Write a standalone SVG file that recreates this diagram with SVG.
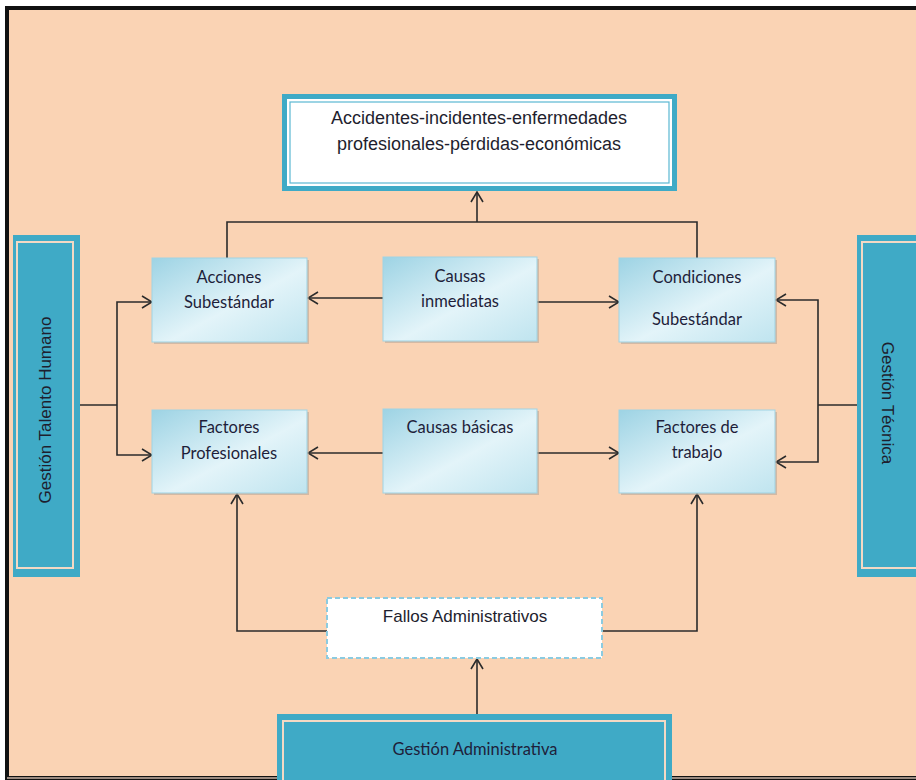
<svg xmlns="http://www.w3.org/2000/svg" width="916" height="780" viewBox="0 0 916 780">
<style>
.conn{fill:none;stroke:#2b2b2b;stroke-width:1.6}
.arr{marker-end:url(#ah)}
.blue{fill:url(#bg);stroke:#9fd3e3;stroke-width:1}
.shadow{fill:#b9a99a;opacity:0.6}
.teal{fill:#3FAAC6}
.inner{fill:none;stroke:#f3d9c4;stroke-width:2}
.t1{font-family:"Liberation Sans",Arial,sans-serif;font-size:17px;fill:#1e1e2e;text-anchor:middle}
.t0{font-family:"Liberation Sans",Arial,sans-serif;font-size:18px;fill:#1e1e2e;text-anchor:middle}
.t2{font-family:Lato,"Open Sans",sans-serif;font-size:16.5px;fill:#1e1e3a;text-anchor:middle}
</style>
<defs>
<linearGradient id="bg" x1="0" y1="0" x2="1" y2="1">
<stop offset="0" stop-color="#9dd3e4"/>
<stop offset="0.55" stop-color="#e3f4f9"/>
<stop offset="1" stop-color="#bfe4ef"/>
</linearGradient>
<marker id="ah" viewBox="0 0 12 14" refX="11" refY="7" markerWidth="12" markerHeight="14" markerUnits="userSpaceOnUse" orient="auto">
<path d="M1,1 L11,7 L1,13" fill="none" stroke="#2b2b2b" stroke-width="1.6"/>
</marker>
</defs>
<rect x="0" y="0" width="916" height="780" fill="#ffffff"/>
<rect x="7" y="8" width="915" height="770" fill="#FAD3B4" stroke="#111" stroke-width="4"/>
<line x1="7" y1="778" x2="916" y2="778" stroke="#9a8a80" stroke-width="2"/>

<g id="connectors">
<polyline class="conn" points="227,258 227,222 697,222 697,258"/>
<line class="conn arr" x1="477" y1="222" x2="477" y2="192"/>
<line class="conn arr" x1="383" y1="298" x2="308" y2="298"/>
<line class="conn arr" x1="537" y1="302" x2="619" y2="302"/>
<line class="conn arr" x1="383" y1="453" x2="308" y2="453"/>
<line class="conn arr" x1="537" y1="453" x2="619" y2="453"/>
<line class="conn" x1="80" y1="405" x2="117" y2="405"/>
<polyline class="conn arr" points="117,405 117,302 152,302"/>
<polyline class="conn arr" points="117,405 117,455 152,455"/>
<line class="conn" x1="857" y1="405" x2="818" y2="405"/>
<polyline class="conn arr" points="818,405 818,300 776,300"/>
<polyline class="conn arr" points="818,405 818,462 776,462"/>
<polyline class="conn arr" points="327,631 237,631 237,494"/>
<polyline class="conn arr" points="602,631 697,631 697,494"/>
<line class="conn arr" x1="477" y1="714" x2="477" y2="659"/>
</g>

<g id="top">
<rect x="282" y="94" width="395" height="97" fill="#3FAAC6"/>
<rect x="287" y="99" width="385" height="87" fill="#ffffff"/>
<rect x="290" y="102" width="379" height="81" fill="none" stroke="#5bb8d2" stroke-width="1.2"/>
<rect x="292" y="104" width="375" height="77" fill="#ffffff"/>
<text class="t0" x="479" y="124">Accidentes-incidentes-enfermedades</text>
<text class="t0" x="479" y="150">profesionales-pérdidas-económicas</text>
</g>

<g id="acciones">
<rect class="shadow" x="154" y="260" width="155" height="84"/>
<rect class="blue" x="152" y="258" width="155" height="84"/>
<text class="t2" x="229" y="283">Acciones</text>
<text class="t2" x="229" y="308">Subestándar</text>
</g>

<g id="inmediatas">
<rect class="shadow" x="385" y="259" width="154" height="84"/>
<rect class="blue" x="383" y="257" width="154" height="84"/>
<text class="t2" x="460" y="282">Causas</text>
<text class="t2" x="460" y="307">inmediatas</text>
</g>

<g id="condiciones">
<rect class="shadow" x="621" y="260" width="156" height="84"/>
<rect class="blue" x="619" y="258" width="156" height="84"/>
<text class="t2" x="697" y="283">Condiciones</text>
<text class="t2" x="697" y="325">Subestándar</text>
</g>

<g id="profesionales">
<rect class="shadow" x="154" y="412" width="155" height="83"/>
<rect class="blue" x="152" y="410" width="155" height="83"/>
<text class="t2" x="229" y="433">Factores</text>
<text class="t2" x="229" y="459">Profesionales</text>
</g>

<g id="basicas">
<rect class="shadow" x="385" y="411" width="154" height="84"/>
<rect class="blue" x="383" y="409" width="154" height="84"/>
<text class="t2" x="460" y="433">Causas básicas</text>
</g>

<g id="trabajo">
<rect class="shadow" x="621" y="412" width="156" height="83"/>
<rect class="blue" x="619" y="410" width="156" height="83"/>
<text class="t2" x="697" y="433">Factores de</text>
<text class="t2" x="697" y="458">trabajo</text>
</g>

<g id="talento">
<rect class="teal" x="13" y="235" width="67" height="342"/>
<rect class="inner" x="17" y="242" width="56" height="326"/>
<text class="t1" transform="translate(51,410) rotate(-90)">Gestión Talento Humano</text>
</g>

<g id="tecnica">
<rect class="teal" x="857" y="235" width="70" height="342"/>
<rect class="inner" x="862" y="242" width="60" height="326"/>
<text class="t1" transform="translate(882,403) rotate(90)">Gestión Técnica</text>
</g>

<g id="fallos">
<rect x="327" y="598" width="275" height="60" fill="#ffffff" stroke="#8ccbe0" stroke-width="2" stroke-dasharray="5,3"/>
<text class="t1" x="465" y="622">Fallos Administrativos</text>
</g>

<g id="administrativa">
<rect class="teal" x="277" y="714" width="395" height="70"/>
<rect class="inner" x="283" y="721" width="382" height="60"/>
<text class="t2" x="475" y="755">Gestión Administrativa</text>
</g>
</svg>
